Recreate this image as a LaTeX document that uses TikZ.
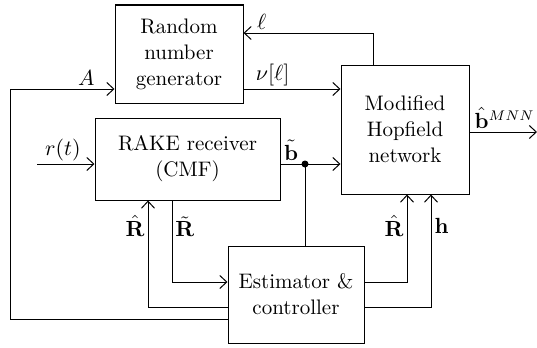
\documentclass[tikz,border=0pt]{standalone}
\usepackage{amsmath}
\usepackage{tikz}
\usetikzlibrary{arrows.meta}

\begin{document}
\begin{tikzpicture}[x=0.5pt,y=-0.5pt,line width=0.5pt,
  >={Straight Barb[length=3.5pt,width=6.5pt]},
  block/.style={draw,align=center,font=\fontsize{10.5}{13}\selectfont},
  lbl/.style={font=\fontsize{10.5}{13}\selectfont,inner sep=1.5pt}]
	\useasboundingbox (0,0) rectangle (537,348);
	\node[block,minimum width=64pt,minimum height=49pt] at (179,54) (rng) {Random\\number\\generator};
	\node[block,minimum width=92.5pt,minimum height=41pt] at (187.5,159) (rake) {RAKE receiver\\(CMF)};
	\node[block,minimum width=64pt,minimum height=64.5pt] at (405,129.5) (hop) {Modified\\Hopfield\\network};
	\node[block,minimum width=68pt,minimum height=48.5pt] at (296,294.5) (est) {Estimator \&\\controller};
	\coordinate (rin) at (37,164);
	\coordinate (bout) at (537,132);
	\coordinate (lft) at (10,89);
	\coordinate (dot) at (305,164);
	% top loop between generator and network
	\draw[->] (hop.north -| 373,0) |- node[lbl,above,pos=0.93] {$\ell$} (rng.east |- 0,33);
	\draw[->] (rng.east |- 0,89) -- node[lbl,above,pos=0.3] {$\nu[\ell]$} (hop.west |- 0,89);
	\draw (est.west |- 0,319) -| (lft);
	\draw[->] (lft) -- node[lbl,above,pos=0.73] {$A$} (rng.west |- lft);
	% receiver path
	\draw[->] (rin) -- node[lbl,above,pos=0.45] {$r(t)$} (rake.west |- rin);
	\draw[->] (rake.east |- dot) -- (hop.west |- dot);
	\node[lbl] at (291,150) (btil) {$\tilde{\mathbf{b}}$};
	\fill (dot) circle (3.5);
	\draw (dot) -- (est.north -| dot);
	\draw[->] (hop.east |- bout) -- node[lbl,above,pos=0.52] {$\hat{\mathbf{b}}^{MNN}$} (bout);
	% estimator outputs
	\draw[->] (est.west |- 0,307) -| node[lbl,left,pos=0.88] {$\hat{\mathbf{R}}$} (rake.south -| 148,0);
	\draw[->] (rake.south -| 172,0) |- node[lbl,right,pos=0.16] {$\tilde{\mathbf{R}}$} (est.west |- 0,282);
	\draw[->] (est.east |- 0,282) -| node[lbl,left,pos=0.82] {$\hat{\mathbf{R}}$} (hop.south -| 407,0);
	\draw[->] (est.east |- 0,307) -| node[lbl,right,pos=0.86] {$\mathbf{h}$} (hop.south -| 431,0);
\end{tikzpicture}
\end{document}
